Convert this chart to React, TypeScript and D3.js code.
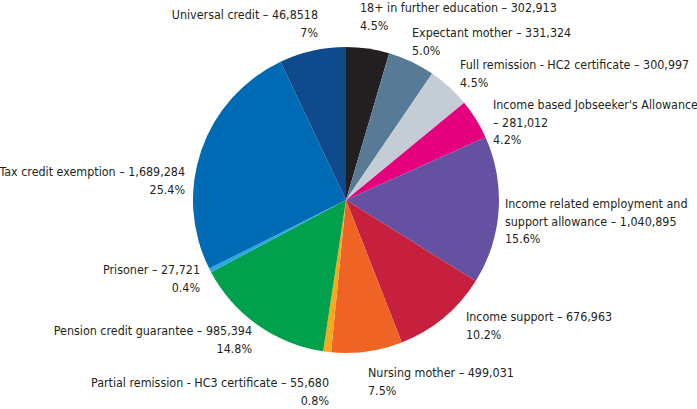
import React from "react";
import * as d3 from "d3";

// categories, clockwise from 12 o'clock
const categories = [
  "18+ in further education",
  "Expectant mother",
  "Full remission - HC2 certificate",
  "Income based Jobseeker's Allowance",
  "Income related employment and support allowance",
  "Income support",
  "Nursing mother",
  "Partial remission - HC3 certificate",
  "Pension credit guarantee",
  "Prisoner",
  "Tax credit exemption",
  "Universal credit",
];
const counts = [302913, 331324, 300997, 281012, 1040895, 676963, 499031, 55680, 985394, 27721, 1689284, 468518];
const countLabels = ["302,913", "331,324", "300,997", "281,012", "1,040,895", "676,963", "499,031", "55,680", "985,394", "27,721", "1,689,284", "46,8518"];
const pctLabels = ["4.5%", "5.0%", "4.5%", "4.2%", "15.6%", "10.2%", "7.5%", "0.8%", "14.8%", "0.4%", "25.4%", "7%"];
const colors = ["#231f20", "#597a94", "#c4cdd5", "#e5007e", "#6551a1", "#c6203e", "#ef6424", "#f6a91c", "#00a04c", "#2aa7e1", "#006bb5", "#0f4b8c"];

const W = 697;
const H = 409;
const cx = 346;
const cy = 200;
const R = 153;
const lineH = 17.5;

// label layout: anchor x, first baseline, text-anchor, line breaks
type Lay = { x: number; y: number; anchor: "start" | "end"; lines: (name: string, n: string, p: string) => string[] };
const oneLine = (name: string, n: string, p: string) => [`${name} – ${n}`, p];
const layout: Lay[] = [
  { x: 360, y: 12, anchor: "start", lines: oneLine },
  { x: 412, y: 37, anchor: "start", lines: oneLine },
  { x: 460, y: 69, anchor: "start", lines: oneLine },
  { x: 493, y: 109, anchor: "start", lines: (name, n, p) => [name, `– ${n}`, p] },
  { x: 505, y: 208, anchor: "start", lines: (_name, n, p) => ["Income related employment and", `support allowance – ${n}`, p] },
  { x: 466, y: 321, anchor: "start", lines: oneLine },
  { x: 368, y: 377, anchor: "start", lines: oneLine },
  { x: 329, y: 387, anchor: "end", lines: oneLine },
  { x: 252, y: 335, anchor: "end", lines: oneLine },
  { x: 200, y: 274, anchor: "end", lines: oneLine },
  { x: 185, y: 176, anchor: "end", lines: oneLine },
  { x: 318, y: 19, anchor: "end", lines: oneLine },
];

export default function App() {
  const pie = d3.pie<number>().sort(null).value((d) => d);
  const arcs = pie(counts);
  const arc = d3.arc<d3.PieArcDatum<number>>().innerRadius(0).outerRadius(R);

  return (
    <svg
      width={W}
      height={H}
      style={{ position: "absolute", left: 0, top: 0, background: "#fff" }}
      fontFamily="'DejaVu Sans Condensed', sans-serif"
      fontSize={12.4}
    >
      <g transform={`translate(${cx},${cy})`}>
        {arcs.map((a, i) => (
          <path key={i} d={arc(a) || ""} fill={colors[i]} />
        ))}
      </g>
      {categories.map((c, i) => {
        const l = layout[i];
        return (
          <text key={c} x={l.x} y={l.y} textAnchor={l.anchor} fill="#231f20">
            {l.lines(c, countLabels[i], pctLabels[i]).map((t, j) => (
              <tspan key={j} x={l.x} y={l.y + j * lineH}>
                {t}
              </tspan>
            ))}
          </text>
        );
      })}
    </svg>
  );
}
